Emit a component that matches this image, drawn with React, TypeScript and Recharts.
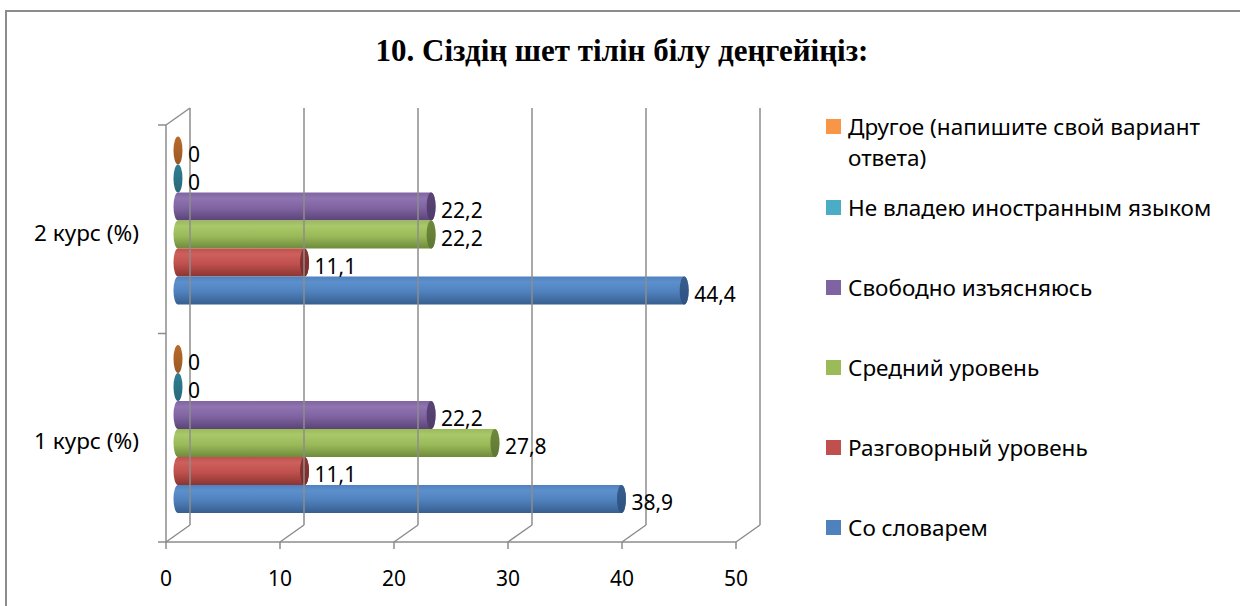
import React from "react";
import { BarChart, Bar, XAxis, YAxis, LabelList } from "recharts";

// categories (top to bottom) and series, legend order top to bottom
const categories = ["2 курс (%)", "1 курс (%)"];
const seriesNames = [
  "Другое (напишите свой вариант ответа)",
  "Не владею иностранным языком",
  "Свободно изъясняюсь",
  "Средний уровень",
  "Разговорный уровень",
  "Со словарем",
];
const seriesKeys = ["other", "none", "fluent", "middle", "spoken", "dict"];

const otherValues = [0, 0];
const noneValues = [0, 0];
const fluentValues = [22.2, 22.2];
const middleValues = [22.2, 27.8];
const spokenValues = [11.1, 11.1];
const dictValues = [44.4, 38.9];

const xTicks = [0, 10, 20, 30, 40, 50];

const seriesColors = [
  { base: "#F79646", light: "#FAA862", dark: "#B86A2B", cap: "#9A5A24" },
  { base: "#4BACC6", light: "#5EBCD4", dark: "#2F7F95", cap: "#2A6878" },
  { base: "#8064A2", light: "#8F74B0", dark: "#5A4477", cap: "#4F3C68" },
  { base: "#9BBB59", light: "#A8C86A", dark: "#6F8A3C", cap: "#5E7732" },
  { base: "#C0504D", light: "#CD605C", dark: "#8A3533", cap: "#7A2C2A" },
  { base: "#4F81BD", light: "#5C90CC", dark: "#375E8E", cap: "#2E5282" },
];

const valueLists = [otherValues, noneValues, fluentValues, middleValues, spokenValues, dictValues];

const data = categories.map((cat, i) => {
  const row: any = { cat };
  seriesKeys.forEach((k, s) => {
    row[k] = valueLists[s][i];
  });
  return row;
});

const W = 1240;
const H = 606;
const PLOT_LEFT = 166;
const PLOT_RIGHT = 736;
const PLOT_TOP = 125;
const PLOT_BOTTOM = 542;
const DEPTH_X = 24;
const DEPTH_Y = 17;
const BAR_DX = DEPTH_X / 2;
const BAR_DY = DEPTH_Y / 2;
const X_AXIS_H = 40;
const Y_AXIS_W = 150;
const FONT = "'Noto Sans', 'DejaVu Sans', sans-serif";
const GRID = "#8c8c8c";

const fmt = (v: number) => String(v).replace(".", ",");

const Cylinder = (props: any) => {
  const { x, y, width, height, s } = props;
  const x0 = x + BAR_DX;
  const y0 = y - BAR_DY;
  const w = Math.max(width || 0, 0);
  const h = height;
  const rx = 4.5;
  const ry = h / 2;
  const cy = y0 + ry;
  return (
    <g>
      {w > 0 && (
        <path
          d={`M ${x0} ${y0} L ${x0 + w} ${y0} A ${rx} ${ry} 0 0 1 ${x0 + w} ${y0 + h} L ${x0} ${y0 + h} A ${rx} ${ry} 0 0 1 ${x0} ${y0} Z`}
          fill={`url(#body-${s})`}
        />
      )}
      <ellipse cx={x0 + w} cy={cy} rx={rx} ry={ry} fill={`url(#cap-${s})`} />
    </g>
  );
};

const BarLabel = (props: any) => {
  const vb = props.viewBox || props;
  const { x, y, width, height } = vb;
  return (
    <text
      x={x + BAR_DX + Math.max(width, 0) + 10}
      y={y - BAR_DY + height / 2 + 3}
      dominantBaseline="central"
      fontSize={21}
      fontFamily={FONT}
      fill="#000"
    >
      {fmt(props.value)}
    </text>
  );
};

const XTick = (props: any) => {
  const { x, y, payload } = props;
  return (
    <g>
      <line x1={x} y1={y} x2={x} y2={y + 7} stroke={GRID} strokeWidth={1.5} />
      <line x1={x} y1={y} x2={x + DEPTH_X} y2={y - DEPTH_Y} stroke={GRID} strokeWidth={1.5} />
      <line
        x1={x + DEPTH_X}
        y1={y - DEPTH_Y}
        x2={x + DEPTH_X}
        y2={PLOT_TOP - DEPTH_Y}
        stroke={GRID}
        strokeWidth={1.5}
      />
      <text x={x} y={y + 36} textAnchor="middle" dominantBaseline="central" fontSize={21} fontFamily={FONT} fill="#000">
        {payload.value}
      </text>
    </g>
  );
};

const band = (PLOT_BOTTOM - PLOT_TOP) / categories.length;

const YTick = (props: any) => {
  const { x, y, payload, index } = props;
  const top = y - band / 2;
  const bottom = y + band / 2;
  return (
    <g>
      <line x1={x - 8} y1={top} x2={x} y2={top} stroke={GRID} strokeWidth={1.5} />
      {index === categories.length - 1 && (
        <line x1={x - 8} y1={bottom} x2={x} y2={bottom} stroke={GRID} strokeWidth={1.5} />
      )}
      {index === 0 && (
        <line x1={x} y1={top} x2={x + DEPTH_X} y2={top - DEPTH_Y} stroke={GRID} strokeWidth={1.5} />
      )}
      <text x={x - 27} y={y + 3} textAnchor="end" dominantBaseline="central" fontSize={22.5} fontFamily={FONT} fill="#000">
        {payload.value}
      </text>
    </g>
  );
};

const legendCenters = seriesNames.map((_, i) => (i === 0 ? 126 : 207 + 80 * (i - 1)));

export default function App() {
  return (
    <div style={{ position: "absolute", left: 0, top: 0, width: W, height: H, background: "#fff", overflow: "hidden" }}>
      <div
        style={{
          position: "absolute",
          left: 5,
          top: 10,
          width: W + 50,
          height: H + 50,
          border: "2px solid #8c8c8c",
          boxSizing: "border-box",
        }}
      />
      <div
        style={{
          position: "absolute",
          left: 0,
          width: 1244,
          top: 31,
          textAlign: "center",
          fontFamily: "'Liberation Serif', 'Times New Roman', serif",
          fontWeight: 700,
          fontSize: 31,
          lineHeight: "40px",
          color: "#000",
        }}
      >
        10. Сіздің шет тілін білу деңгейіңіз:
      </div>
      <div style={{ position: "absolute", left: 0, top: 0 }}>
        <BarChart
          width={W}
          height={H}
          data={data}
          layout="vertical"
          barSize={28}
          barGap={0}
          margin={{
            top: PLOT_TOP,
            bottom: H - PLOT_BOTTOM - X_AXIS_H,
            left: PLOT_LEFT - Y_AXIS_W,
            right: W - PLOT_RIGHT,
          }}
        >
          <defs>
            {seriesColors.map((c, s) => (
              <linearGradient key={`b${s}`} id={`body-${s}`} x1="0" y1="0" x2="0" y2="1">
                <stop offset="0%" stopColor={c.base} />
                <stop offset="20%" stopColor={c.light} />
                <stop offset="55%" stopColor={c.base} />
                <stop offset="100%" stopColor={c.dark} />
              </linearGradient>
            ))}
            {seriesColors.map((c, s) => (
              <linearGradient key={`c${s}`} id={`cap-${s}`} x1="0" y1="0" x2="0" y2="1">
                <stop offset="0%" stopColor={c.dark} />
                <stop offset="100%" stopColor={c.cap} />
              </linearGradient>
            ))}
          </defs>
          <XAxis
            type="number"
            domain={[0, 50]}
            ticks={xTicks}
            height={X_AXIS_H}
            tickSize={0}
            tickMargin={0}
            axisLine={{ stroke: GRID, strokeWidth: 1.5 }}
            tickLine={false}
            tick={<XTick />}
            allowDataOverflow
          />
          <YAxis
            type="category"
            dataKey="cat"
            width={Y_AXIS_W}
            tickSize={0}
            tickMargin={0}
            axisLine={{ stroke: GRID, strokeWidth: 1.5 }}
            tickLine={false}
            tick={<YTick />}
          />
          {seriesKeys.map((k, s) => (
            <Bar
              key={k}
              dataKey={k}
              name={seriesNames[s]}
              fill={seriesColors[s].base}
              isAnimationActive={false}
              shape={(p: any) => <Cylinder {...p} s={s} />}
            >
              <LabelList dataKey={k} content={<BarLabel />} />
            </Bar>
          ))}
        </BarChart>
      </div>
      {seriesNames.map((name, s) => (
        <div
          key={name}
          style={{
            position: "absolute",
            left: 826,
            top: legendCenters[s] - 15.5,
            width: 410,
            display: "flex",
            alignItems: "flex-start",
            fontFamily: FONT,
            fontSize: 22.5,
            lineHeight: "31px",
            color: "#000",
          }}
        >
          <div
            style={{
              width: 15,
              height: 15,
              background: seriesColors[s].base,
              marginTop: 8,
              flex: "none",
            }}
          />
          <div style={{ marginLeft: 7, width: 385 }}>{name}</div>
        </div>
      ))}
    </div>
  );
}
